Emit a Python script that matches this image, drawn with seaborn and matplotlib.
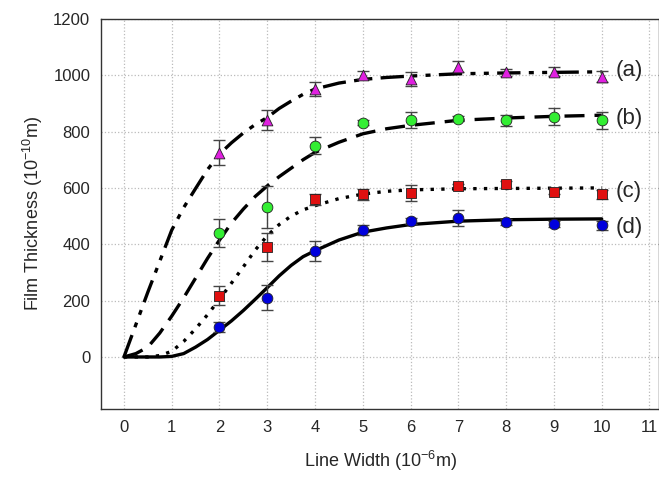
import numpy as np
import pandas as pd
import matplotlib
matplotlib.use("Agg")
import matplotlib.pyplot as plt
import seaborn as sns

# datos medidos (x = ancho de línea, y = espesor, e = barra de error)
x_pts = [2, 3, 4, 5, 6, 7, 8, 9, 10]
y_a = [725, 840, 950, 1000, 985, 1030, 1010, 1013, 995]
e_a = [45, 35, 25, 15, 25, 20, 12, 15, 20]
y_b = [440, 533, 749, 832, 841, 846, 840, 853, 840]
e_b = [50, 75, 30, 10, 30, 10, 20, 30, 30]
y_c = [218, 391, 560, 577, 583, 607, 613, 587, 577]
e_c = [35, 50, 20, 20, 28, 8, 12, 8, 15]
y_d = [107, 210, 376, 450, 482, 494, 479, 471, 467]
e_d = [18, 45, 35, 18, 10, 28, 12, 10, 15]

# curvas ajustadas
x_fit = [0, 0.25, 0.5, 0.75, 1, 1.25, 1.5, 1.75, 2, 2.25, 2.5, 2.75, 3, 3.25,
         3.5, 3.75, 4, 4.5, 5, 5.5, 6, 7, 8, 9, 10]
fit_a = [0, 115, 230, 340, 450, 530, 598, 665, 720, 760, 795, 825, 850, 882,
         908, 932, 951, 972, 985, 992, 997, 1005, 1008, 1010, 1012]
fit_b = [0, 12, 35, 85, 145, 210, 280, 350, 415, 475, 525, 570, 607, 640,
         670, 700, 726, 762, 792, 810, 822, 840, 848, 854, 858]
fit_c = [0, 0, 0, 5, 20, 55, 100, 150, 205, 262, 320, 380, 430, 470,
         500, 522, 537, 562, 578, 588, 593, 597, 598, 599, 600]
fit_d = [0, 0, 0, 0, 2, 12, 35, 62, 95, 128, 165, 205, 246, 288,
         325, 356, 377, 415, 443, 458, 470, 482, 487, 489, 490]

etiquetas = ["(a)", "(b)", "(c)", "(d)"]
pos_etiqueta = [1015, 845, 588, 460]

sns.set_style("white")
plt.rcParams['font.family'] = ['Liberation Sans', 'DejaVu Sans']

fig = plt.figure(figsize=(6.59, 4.83), dpi=100)
ax = fig.add_axes([0.154, 0.153, 0.846, 0.808])

series = [
    (y_a, e_a, fit_a, '^', '#e020e0', (7, 2.5, 1.5, 2.5, 1.5, 2.5)),
    (y_b, e_b, fit_b, 'o', '#33ee33', (6, 3)),
    (y_c, e_c, fit_c, 's', '#e01010', (1, 2.2)),
    (y_d, e_d, fit_d, 'o', '#0000dd', None),
]

for y, e, fit, mk, col, dash in series:
    sns.lineplot(x=x_fit, y=fit, ax=ax, color='black', linewidth=2.4)
    if dash is not None:
        ax.lines[-1].set_dashes(dash)
    ax.errorbar(x_pts, y, yerr=e, fmt='none', ecolor='#444444',
                elinewidth=1, capsize=4, capthick=1, zorder=3)
    sns.scatterplot(x=x_pts, y=y, ax=ax, marker=mk, color=col, s=60,
                    edgecolor='#222222', linewidth=0.6, zorder=4)

for lab, yy in zip(etiquetas, pos_etiqueta):
    ax.text(10.3, yy, lab, fontsize=16, va='center', ha='left')

ax.set_xlim(-0.47, 11.2)
ax.set_ylim(-185, 1200)
ax.set_xticks(range(0, 12))
ax.set_yticks(range(0, 1201, 200))
ax.grid(True, linestyle=':', color='#bbbbbb', linewidth=0.9)
ax.set_axisbelow(True)
for s in ax.spines.values():
    s.set_color('#333333')
    s.set_linewidth(1)
ax.tick_params(axis='both', labelsize=12, direction='in', length=4,
               color='#333333', pad=8)
ax.tick_params(axis='y', length=0)

ax.set_xlabel(r'Line Width (10$^{\mathregular{-6}}$m)', fontsize=13, labelpad=10)
ax.set_ylabel(r'Film Thickness (10$^{\mathregular{-10}}$m)', fontsize=13, labelpad=6)

plt.savefig("out.png", dpi=100)
